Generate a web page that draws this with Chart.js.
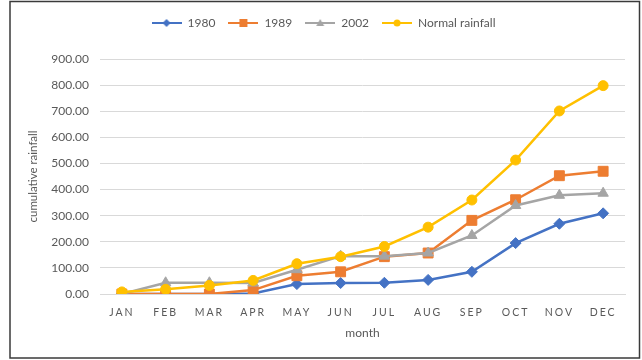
<!DOCTYPE html>
<html>
<head>
<meta charset="utf-8">
<script src="https://cdn.jsdelivr.net/npm/chart.js@4/dist/chart.umd.min.js"></script>
<style>
  html, body { margin: 0; padding: 0; background: #fff; }
  #wrap { position: relative; width: 642px; height: 360px; }
</style>
</head>
<body>
<div id="wrap"><canvas id="c" width="642" height="360"></canvas></div>
<script>
// Monthly cumulative rainfall
const months = ['JAN','FEB','MAR','APR','MAY','JUN','JUL','AUG','SEP','OCT','NOV','DEC'];
const rain1980 = [0, 0, 0, 2, 38, 42, 43, 54, 85, 195, 269, 309];
const rain1989 = [0, 0, 0, 15, 70, 85, 143, 157, 282, 361, 453, 470];
const rain2002 = [0, 43, 43, 42, 93, 145, 145, 157, 224, 339, 378, 386];
const rainNormal = [8, 18, 33, 52, 116, 143, 182, 256, 360, 513, 701, 798];
const yTicks = [0, 100, 200, 300, 400, 500, 600, 700, 800, 900];

const seriesNames = ['1980', '1989', '2002', 'Normal rainfall'];
const seriesColors = ['#4472C4', '#ED7D31', '#A5A5A5', '#FFC000'];
const seriesMarkers = ['rectRot', 'rect', 'triangle', 'circle'];
const seriesRadius = [5.5, 7, 6, 5];

const textColor = '#595959';
const fontFamily = 'Lato, "Open Sans", sans-serif';

// Legend glyph: a short line with the series marker in its middle
const GLYPH_W = 30;
function legendGlyph(i) {
  const c = document.createElement('canvas');
  c.width = GLYPH_W; c.height = 12;
  const g = c.getContext('2d');
  const m = GLYPH_W / 2;
  g.strokeStyle = seriesColors[i];
  g.lineWidth = 2;
  g.beginPath(); g.moveTo(0, 6); g.lineTo(GLYPH_W, 6); g.stroke();
  g.fillStyle = seriesColors[i];
  const s = seriesMarkers[i];
  g.beginPath();
  if (s === 'rectRot') { g.moveTo(m, 2); g.lineTo(m + 4, 6); g.lineTo(m, 10); g.lineTo(m - 4, 6); g.closePath(); }
  else if (s === 'rect') { g.rect(m - 4, 2, 8, 8); }
  else if (s === 'triangle') { g.moveTo(m, 2); g.lineTo(m + 4, 9); g.lineTo(m - 4, 9); g.closePath(); }
  else { g.arc(m, 6, 3.5, 0, Math.PI * 2); }
  g.fill();
  return c;
}

const allData = [rain1980, rain1989, rain2002, rainNormal];
const datasets = allData.map((d, i) => ({
  label: seriesNames[i],
  data: d,
  borderColor: seriesColors[i],
  backgroundColor: seriesColors[i],
  pointBackgroundColor: seriesColors[i],
  pointBorderColor: seriesColors[i],
  pointStyle: seriesMarkers[i],
  pointRadius: seriesRadius[i],
  pointBorderWidth: 1,
  borderWidth: 2.5,
  tension: 0,
  order: 4 - i
}));

// Outer frame, gap under the legend and letter-spaced month labels
const framePlugin = {
  id: 'frame',
  afterInit(chart) {
    const lg = chart.legend;
    if (lg && !lg._gap) {
      const fit = lg.fit.bind(lg);
      lg.fit = function () { fit(); this.height += 20; };
      lg._gap = true;
    }
  },
  beforeDraw(chart) {
    const xs = chart.scales.x;
    if (xs && !xs._spaced) {
      const orig = xs.drawLabels.bind(xs);
      xs.drawLabels = function (area) {
        const ctx = chart.ctx;
        ctx.save();
        ctx.letterSpacing = '2px';
        orig(area);
        ctx.restore();
      };
      xs._spaced = true;
    }
  },
  afterDraw(chart) {
    const ctx = chart.ctx;
    ctx.save();
    ctx.strokeStyle = '#3a3a3a';
    ctx.lineWidth = 1.5;
    ctx.strokeRect(10, 1.5, 629.5, 356.5);
    ctx.restore();
  }
};

new Chart(document.getElementById('c'), {
  type: 'line',
  data: { labels: months, datasets },
  plugins: [framePlugin],
  options: {
    responsive: false,
    animation: false,
    layout: { padding: { left: 22, right: 17, top: 4, bottom: 20 } },
    plugins: {
      tooltip: { enabled: false },
      legend: {
        position: 'top',
        labels: {
          color: textColor,
          font: { family: fontFamily, size: 12 },
          usePointStyle: true,
          pointStyleWidth: GLYPH_W,
          padding: 13,
          generateLabels(chart) {
            return seriesNames.map((n, i) => ({
              text: n,
              pointStyle: legendGlyph(i),
              fillStyle: seriesColors[i],
              strokeStyle: seriesColors[i],
              lineWidth: 0,
              hidden: false,
              datasetIndex: i,
              fontColor: textColor
            }));
          }
        }
      }
    },
    scales: {
      x: {
        offset: true,
        afterFit(scale) { scale.height = 46; },
        grid: { display: false },
        border: { display: true, color: '#d9d9d9', width: 1 },
        ticks: { color: textColor, font: { family: fontFamily, size: 10.5 }, padding: 4 },
        title: { display: true, text: 'month', color: textColor, font: { family: fontFamily, size: 12 }, padding: { top: 2, bottom: 0 } }
      },
      y: {
        min: 0, max: 900,
        afterBuildTicks(scale) { scale.ticks = yTicks.map(v => ({ value: v })); },
        afterFit(scale) { scale.width = 78; },
        grid: { color: '#d9d9d9', drawTicks: false, lineWidth: 1 },
        border: { display: false },
        ticks: {
          color: textColor,
          font: { family: fontFamily, size: 12 },
          padding: 11,
          callback: v => Number(v).toFixed(2)
        },
        title: { display: true, text: 'cumulative rainfall', color: textColor, font: { family: fontFamily, size: 11.5 }, padding: { bottom: 0 } }
      }
    }
  }
});
</script>
</body>
</html>
